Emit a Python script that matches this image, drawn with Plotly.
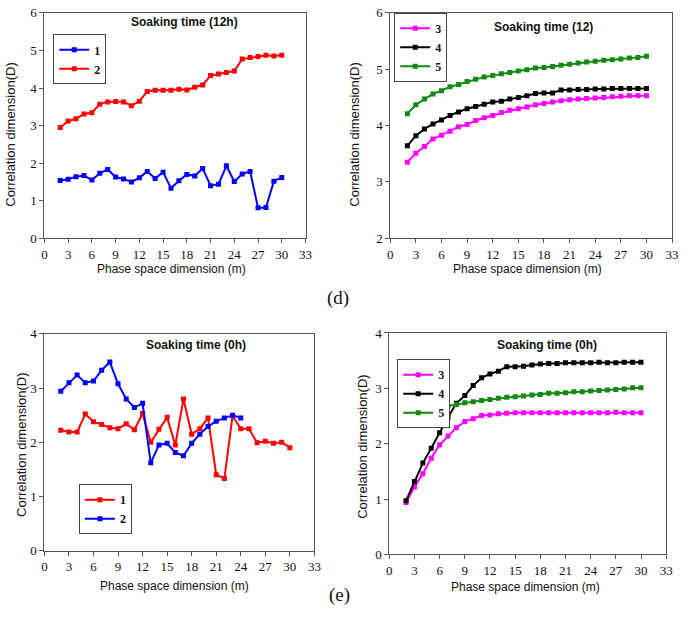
import plotly.graph_objects as go

W, H = 685, 623

m_all = list(range(2, 31))
m_short = list(range(2, 25))

# (d) Soaking time 12h, left panel
d_s1 = [1.54, 1.57, 1.64, 1.67, 1.55, 1.73, 1.83, 1.63, 1.58, 1.50, 1.61, 1.78, 1.59, 1.76, 1.33,
        1.53, 1.70, 1.66, 1.86, 1.40, 1.44, 1.93, 1.51, 1.71, 1.78, 0.81, 0.82, 1.52, 1.62]
d_s2 = [2.95, 3.12, 3.18, 3.31, 3.34, 3.57, 3.63, 3.64, 3.63, 3.53, 3.65, 3.91, 3.94, 3.94, 3.94,
        3.97, 3.95, 4.02, 4.08, 4.33, 4.37, 4.41, 4.45, 4.77, 4.81, 4.84, 4.87, 4.85, 4.87]
# (d) right panel
d_s3 = [3.35, 3.51, 3.63, 3.76, 3.83, 3.90, 3.98, 4.02, 4.09, 4.14, 4.18, 4.23, 4.27, 4.30, 4.33,
        4.37, 4.39, 4.42, 4.44, 4.46, 4.47, 4.48, 4.49, 4.50, 4.51, 4.52, 4.53, 4.53, 4.53]
d_s4 = [3.64, 3.82, 3.94, 4.03, 4.10, 4.18, 4.24, 4.30, 4.34, 4.38, 4.42, 4.43, 4.47, 4.50, 4.53,
        4.57, 4.58, 4.58, 4.63, 4.63, 4.64, 4.64, 4.65, 4.65, 4.66, 4.66, 4.66, 4.66, 4.66]
d_s5 = [4.21, 4.37, 4.47, 4.56, 4.62, 4.69, 4.73, 4.78, 4.82, 4.86, 4.89, 4.92, 4.94, 4.97, 4.99,
        5.02, 5.03, 5.05, 5.07, 5.09, 5.11, 5.13, 5.14, 5.16, 5.17, 5.18, 5.20, 5.21, 5.23]
# (e) Soaking time 0h, left panel
e_s1 = [2.22, 2.19, 2.19, 2.52, 2.38, 2.33, 2.27, 2.25, 2.34, 2.23, 2.53, 2.00, 2.24, 2.46, 1.95,
        2.80, 2.15, 2.25, 2.45, 1.40, 1.33, 2.49, 2.25, 2.25, 1.99, 2.02, 1.98, 2.00, 1.90]
e_s2 = [2.94, 3.10, 3.24, 3.10, 3.13, 3.33, 3.48, 3.08, 2.80, 2.64, 2.72, 1.62, 1.95, 1.98, 1.81,
        1.75, 1.98, 2.15, 2.29, 2.39, 2.45, 2.50, 2.45]
# (e) right panel
e_s3 = [0.94, 1.22, 1.46, 1.74, 1.98, 2.14, 2.29, 2.40, 2.45, 2.51, 2.52, 2.54, 2.55, 2.56, 2.56,
        2.56, 2.56, 2.56, 2.56, 2.56, 2.56, 2.56, 2.56, 2.56, 2.56, 2.57, 2.56, 2.56, 2.56]
e_s4 = [0.97, 1.32, 1.65, 1.92, 2.20, 2.48, 2.73, 2.87, 3.05, 3.19, 3.26, 3.31, 3.39, 3.39, 3.40,
        3.42, 3.44, 3.45, 3.45, 3.46, 3.46, 3.46, 3.46, 3.47, 3.46, 3.46, 3.47, 3.47, 3.47]
e_s5 = [2.39, 2.49, 2.55, 2.60, 2.65, 2.68, 2.71, 2.74, 2.76, 2.78, 2.80, 2.82, 2.84, 2.85, 2.86,
        2.88, 2.89, 2.91, 2.91, 2.92, 2.94, 2.94, 2.95, 2.96, 2.97, 2.98, 2.99, 3.01, 3.01]

x_ticks = [0, 3, 6, 9, 12, 15, 18, 21, 24, 27, 30, 33]

BLUE, RED, MAG, BLK, GRN = "#0000ff", "#ff0000", "#ff00ff", "#000000", "#128a12"
SERIF = "Liberation Serif, Times New Roman, serif"
SANS = "Liberation Sans, Arial, sans-serif"


def px(x):
    return x / W


def py(y):
    return 1 - y / H


fig = go.Figure()


def add(x, y, name, color, ax, legend):
    fig.add_trace(go.Scatter(
        x=x, y=y, name="<b>%s</b>" % name, mode="lines+markers",
        line=dict(color=color, width=2),
        marker=dict(symbol="square", size=5, color=color),
        xaxis="x" + ax, yaxis="y" + ax, legend=legend,
    ))


add(m_all, d_s1, "1", BLUE, "", "legend")
add(m_all, d_s2, "2", RED, "", "legend")
add(m_all, d_s3, "3", MAG, "2", "legend2")
add(m_all, d_s4, "4", BLK, "2", "legend2")
add(m_all, d_s5, "5", GRN, "2", "legend2")
add(m_all, e_s1, "1", RED, "3", "legend3")
add(m_short, e_s2, "2", BLUE, "3", "legend3")
add(m_all, e_s3, "3", MAG, "4", "legend4")
add(m_all, e_s4, "4", BLK, "4", "legend4")
add(m_all, e_s5, "5", GRN, "4", "legend4")

# panel pixel boxes: (left, right, top, bottom), y range
panels = [
    ("", (42, 307, 6, 237), [0, 6]),
    ("2", (393, 679, 6, 237), [2, 6]),
    ("3", (42, 316, 335, 557), [0, 4]),
    ("4", (392, 673, 334, 561), [0, 4]),
]

axis_common = dict(
    showline=True, linecolor="#555555", linewidth=1, mirror=True,
    ticks="outside", ticklen=4, tickcolor="#555555", showgrid=False, zeroline=False,
    tickfont=dict(family=SERIF, size=13, color="#111111"),
)

layout = {}
for ax, (l, r, t, b), yr in panels:
    xa = "xaxis" + ax
    ya = "yaxis" + ax
    layout[xa] = dict(axis_common, domain=[px(l), px(r)], range=[0, 33],
                      tickvals=x_ticks, anchor="y" + ax)
    layout[ya] = dict(axis_common, domain=[py(b), py(t)], range=yr, dtick=1,
                      anchor="x" + ax)

annotations = []


def ann(text, x, y, size, family, bold=False, angle=0):
    annotations.append(dict(
        text=("<b>%s</b>" % text) if bold else text, x=px(x), y=py(y),
        xref="paper", yref="paper", showarrow=False, textangle=angle,
        xanchor="center", yanchor="middle",
        font=dict(family=family, size=size, color="#111111"),
    ))


ann("Soaking time (12h)", 184, 15, 12, SANS, bold=True)
ann("Soaking time (12)", 549, 20, 12, SANS, bold=True)
ann("Soaking time (0h)", 196, 346, 12, SANS, bold=True)
ann("Soaking time (0h)", 552, 346, 12, SANS, bold=True)
for xc, yc in [(171, 268), (532, 268), (174, 593), (530, 594)]:
    ann("Phase space dimension (m)", xc, yc, 12, SANS)
for xc, yc in [(8, 130), (357, 130), (18, 448), (364, 450)]:
    ann("Correlation dimension(D)", xc, yc, 13, SANS, angle=-90)
ann("(d)", 340, 298, 19, SERIF)
ann("(e)", 341, 602, 19, SERIF)

legend_common = dict(
    bgcolor="white", bordercolor="#444444", borderwidth=1,
    font=dict(family=SERIF, size=12, color="#111111"),
    xanchor="left", yanchor="top", itemwidth=30, tracegroupgap=0,
)
layout["legend"] = dict(legend_common, x=px(51), y=py(28))
layout["legend2"] = dict(legend_common, x=px(397), y=py(6))
layout["legend3"] = dict(legend_common, x=px(77), y=py(489))
layout["legend4"] = dict(legend_common, x=px(400), y=py(361))

fig.update_layout(
    width=W, height=H, margin=dict(l=0, r=0, t=0, b=0),
    paper_bgcolor="white", plot_bgcolor="white",
    annotations=annotations, showlegend=True,
    **layout,
)

fig.write_html("out.html", config={"displayModeBar": False},
               post_script="document.body.style.margin='0';document.body.style.padding='0';")
